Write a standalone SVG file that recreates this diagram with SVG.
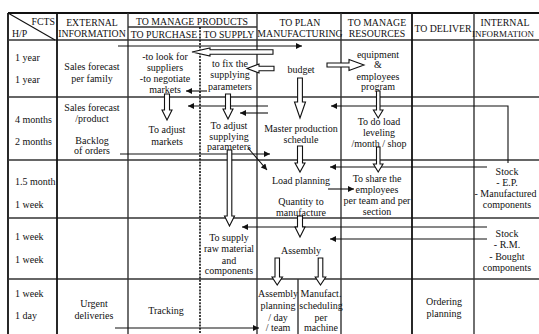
<svg xmlns="http://www.w3.org/2000/svg" width="539" height="334" viewBox="0 0 539 334">
<defs>
<style>
.t{font-family:"Liberation Serif","Times New Roman",serif;font-size:10px;fill:#111;text-anchor:middle}
.h{font-family:"Liberation Serif","Times New Roman",serif;font-size:9.8px;fill:#111;text-anchor:middle}
.l{text-anchor:start}
.r{text-anchor:end}
.g{stroke:#333;stroke-width:1.4;fill:none}
.gd{stroke:#111;stroke-width:1.8;fill:none}
.dash{stroke:#111;stroke-width:1.6;stroke-dasharray:2 1.2;fill:none}
.ln{stroke:#111;stroke-width:1.1;fill:none}
.ba{fill:#fff;stroke:#111;stroke-width:1.1}
</style>
<marker id="ah" viewBox="0 0 10 10" refX="10" refY="5" markerWidth="9" markerHeight="6" markerUnits="userSpaceOnUse" orient="auto"><path d="M0,0 L10,5 L0,10 z" fill="#111"/></marker>
</defs>
<rect width="539" height="334" fill="#fff"/>
<g id="grid">
<line class="gd" x1="8" y1="13" x2="539" y2="13"/>
<line class="gd" x1="8" y1="13" x2="8" y2="334"/>
<line class="g" x1="8" y1="40" x2="539" y2="40"/>
<line class="g" x1="128" y1="27" x2="257" y2="27"/>
<line class="g" x1="8" y1="97" x2="539" y2="97"/>
<line class="g" x1="8" y1="160" x2="539" y2="160"/>
<line class="g" x1="8" y1="218" x2="539" y2="218"/>
<line class="g" x1="8" y1="279" x2="539" y2="279"/>
<line class="gd" x1="57" y1="13" x2="57" y2="334"/>
<line class="g" x1="128" y1="13" x2="128" y2="334"/>
<line class="dash" x1="200" y1="27" x2="200" y2="334"/>
<line class="g" x1="257" y1="13" x2="257" y2="334"/>
<line class="g" x1="341" y1="13" x2="341" y2="334"/>
<line class="gd" x1="412" y1="13" x2="412" y2="334"/>
<line class="g" x1="474" y1="13" x2="474" y2="334"/>
<line class="g" x1="298" y1="279" x2="298" y2="334"/>
<line class="ln" x1="8" y1="13" x2="55" y2="40"/>
</g>
<g id="header">
<text class="h r" x="55" y="25">FCTS</text>
<text class="h l" x="12" y="37">H/P</text>
<text class="h" x="92" y="26">EXTERNAL</text>
<text class="h" x="92" y="36.5">INFORMATION</text>
<text class="h" x="192" y="25">TO MANAGE PRODUCTS</text>
<text class="h" x="164" y="37.5">TO PURCHASE</text>
<text class="h" x="229" y="37.5">TO SUPPLY</text>
<text class="h" x="300" y="26">TO PLAN</text>
<text class="h" x="300" y="36.5">MANUFACTURING</text>
<text class="h" x="377" y="26">TO MANAGE</text>
<text class="h" x="377" y="36.5">RESOURCES</text>
<text class="h" x="443" y="31.5">TO DELIVER</text>
<text class="h" x="505" y="26">INTERNAL</text>
<text class="h" x="503" y="36.5" style="font-size:9px">INFORMATION</text>
</g>
<g id="horizons">
<text class="t l" x="15" y="61">1 year</text>
<text class="t l" x="15" y="83">1 year</text>
<text class="t l" x="15" y="122.5">4 months</text>
<text class="t l" x="15" y="145">2 months</text>
<text class="t l" x="15" y="185">1.5 month</text>
<text class="t l" x="15" y="207.5">1 week</text>
<text class="t l" x="15" y="240">1 week</text>
<text class="t l" x="15" y="262.5">1 week</text>
<text class="t l" x="15" y="296.5">1 week</text>
<text class="t l" x="15" y="318.5">1 day</text>
</g>
<g id="sales-forecast-family"><text class="t" x="92" y="70">Sales forecast</text><text class="t" x="92" y="81.5">per family</text></g>
<g id="look-suppliers"><text class="t" x="165" y="59.5">-to look for</text><text class="t" x="165" y="70.5">suppliers</text><text class="t" x="165" y="82">-to negotiate</text><text class="t" x="165" y="93">markets</text></g>
<g id="fix-params"><text class="t" x="230" y="66.5">to fix the</text><text class="t" x="230" y="78">supplying</text><text class="t" x="230" y="89.5">parameters</text></g>
<g id="budget"><text class="t" x="301" y="72.5">budget</text></g>
<g id="equipment"><text class="t" x="378" y="57.5">equipment</text><text class="t" x="378" y="68">&amp;</text><text class="t" x="378" y="79.5">employees</text><text class="t" x="378" y="90">program</text></g>
<g id="sales-forecast-product"><text class="t" x="92" y="110.5">Sales forecast</text><text class="t" x="92" y="121.5">/product</text><text class="t" x="92" y="143.5">Backlog</text><text class="t" x="92" y="154">of orders</text></g>
<g id="adjust-markets"><text class="t" x="167" y="132.5">To adjust</text><text class="t" x="167" y="145">markets</text></g>
<g id="adjust-params"><text class="t" x="229" y="128.5">To adjust</text><text class="t" x="229" y="139.5">supplying</text><text class="t" x="229" y="150">parameters</text></g>
<g id="mps"><text class="t" x="301" y="132">Master production</text><text class="t" x="301" y="143">schedule</text></g>
<g id="load-leveling"><text class="t" x="379" y="125">To do load</text><text class="t" x="379" y="136">leveling</text><text class="t" x="379" y="147">/month / shop</text></g>
<g id="load-planning"><text class="t" x="301" y="183.5">Load planning</text><text class="t" x="301" y="205">Quantity to</text><text class="t" x="301" y="215.5">manufacture</text></g>
<g id="share-employees"><text class="t" x="377" y="181.5">To share the</text><text class="t" x="377" y="193">employees</text><text class="t" x="377" y="204">per team and per</text><text class="t" x="377" y="214.5">section</text></g>
<g id="stock-ep"><text class="t" x="507" y="174.5">Stock</text><text class="t" x="507" y="185.5">- E.P.</text><text class="t" x="505.5" y="196.5">- Manufactured</text><text class="t" x="507" y="208">components</text></g>
<g id="supply-raw"><text class="t" x="229" y="240.5">To supply</text><text class="t" x="229" y="252">raw material</text><text class="t" x="229" y="263.5">and</text><text class="t" x="229" y="274">components</text></g>
<g id="assembly"><text class="t" x="301" y="253.5">Assembly</text></g>
<g id="stock-rm"><text class="t" x="507" y="236.5">Stock</text><text class="t" x="507" y="248">- R.M.</text><text class="t" x="507" y="259.5">- Bought</text><text class="t" x="507" y="270.5">components</text></g>
<g id="urgent"><text class="t" x="94" y="306.5">Urgent</text><text class="t" x="94" y="318.5">deliveries</text></g>
<g id="tracking"><text class="t" x="166" y="313.5">Tracking</text></g>
<g id="assembly-planning"><text class="t" x="278" y="296.5">Assembly</text><text class="t" x="278" y="308.5">planning</text><text class="t" x="278" y="320.5">/ day</text><text class="t" x="278" y="331">/ team</text></g>
<g id="manufact-scheduling"><text class="t" x="321" y="296.5">Manufact.</text><text class="t" x="321" y="308.5">scheduling</text><text class="t" x="321" y="320.5">per</text><text class="t" x="321" y="331">machine</text></g>
<g id="ordering"><text class="t" x="444" y="305">Ordering</text><text class="t" x="444" y="316.5">planning</text></g>
<g id="connectors">
<line class="ln" x1="118" y1="46" x2="302" y2="46" marker-end="url(#ah)"/>
<line class="ln" x1="207" y1="91" x2="186" y2="91" marker-end="url(#ah)"/>
<line class="ln" x1="268" y1="106" x2="188" y2="106" marker-end="url(#ah)"/>
<line class="ln" x1="268" y1="113" x2="240" y2="113" marker-end="url(#ah)"/>
<polyline class="ln" points="508,163 508,106 331,106" marker-end="url(#ah)"/>
<line class="ln" x1="120" y1="154" x2="270" y2="154" marker-end="url(#ah)"/>
<line class="ln" x1="248" y1="148" x2="267" y2="170" marker-end="url(#ah)"/>
<line class="ln" x1="487" y1="167" x2="330" y2="167" marker-end="url(#ah)"/>
<line class="ln" x1="328" y1="189" x2="354" y2="189" marker-end="url(#ah)"/>
<line class="ln" x1="487" y1="227" x2="242" y2="227" marker-end="url(#ah)"/>
<line class="ln" x1="487" y1="239" x2="330" y2="239" marker-end="url(#ah)"/>
<line class="ln" x1="115" y1="328" x2="259" y2="328" marker-end="url(#ah)"/>
<path class="ba" d="M273,49.8 L210,49.8 L210,48 L192,52 L210,56 L210,54.2 L273,54.2 Z"/>
<path class="ba" d="M274,66.3 L259,66.3 L259,64 L247,68.5 L259,73 L259,70.7 L274,70.7 Z"/>
<path class="ba" d="M327,63 L349,63 L349,59.5 L364,65 L349,70.5 L349,67 L327,67 Z"/>
<path class="ba" d="M164.5,94 L169.5,94 L169.5,110 L172,110 L167,120 L162,110 L164.5,110 Z"/>
<path class="ba" d="M225.5,94 L230.5,94 L230.5,109 L233,109 L228,119 L223,109 L225.5,109 Z"/>
<path class="ba" d="M297.6,78 L302.4,78 L302.4,102 L305.5,102 L300,118 L294.5,102 L297.6,102 Z"/>
<path class="ba" d="M376.5,91 L380,91 L380,110 L383,110 L378.2,118 L373.4,110 L376.5,110 Z"/>
<path class="ba" d="M297.5,146 L302.5,146 L302.5,163 L305,163 L300,172 L295,163 L297.5,163 Z"/>
<path class="ba" d="M376.5,147 L380,147 L380,164 L383,164 L378.2,172 L373.4,164 L376.5,164 Z"/>
<path class="ba" d="M227.2,150 L231.8,150 L231.8,216 L234.5,216 L229.5,226 L224.5,216 L227.2,216 Z"/>
<path class="ba" d="M297.5,216 L302.5,216 L302.5,227 L305,227 L300,237 L295,227 L297.5,227 Z"/>
<path class="ba" d="M275,258 L279.5,258 L279.5,277 L282.5,277 L277.2,285 L272,277 L275,277 Z"/>
<path class="ba" d="M318.2,258 L322.8,258 L322.8,277 L325.8,277 L320.5,285 L315.2,277 L318.2,277 Z"/>
</g>
</svg>
